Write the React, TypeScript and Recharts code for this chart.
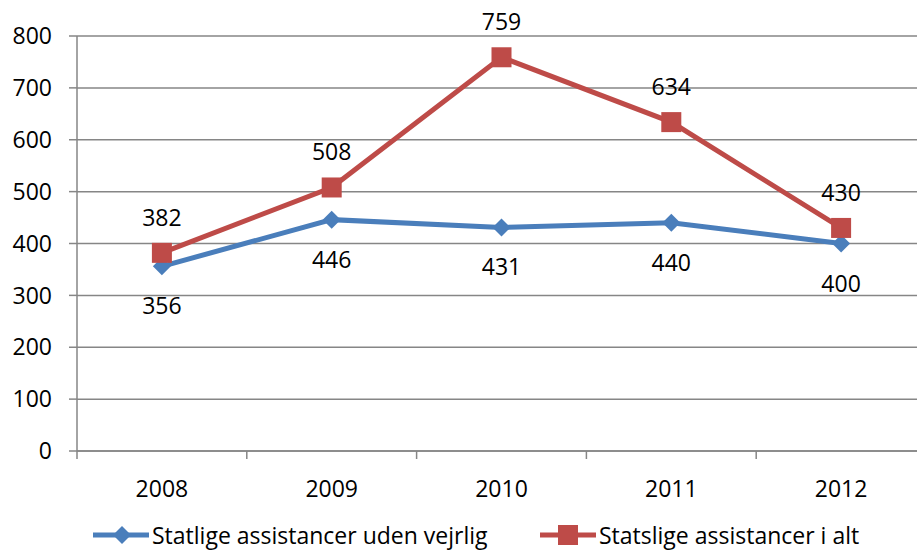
import { LineChart, Line, XAxis, YAxis, CartesianGrid, LabelList } from 'recharts';

const years = ['2008', '2009', '2010', '2011', '2012'];
const udenVejrlig = [356, 446, 431, 440, 400];
const iAlt = [382, 508, 759, 634, 430];
const seriesNames = ['Statlige assistancer uden vejrlig', 'Statslige assistancer i alt'];
const yTicks = [0, 100, 200, 300, 400, 500, 600, 700, 800];

const data = years.map((year, i) => ({ year, uden: udenVejrlig[i], alt: iAlt[i] }));

const FONT = '"Open Sans", sans-serif';
const FS = 23;
const GRID = '#868686';
const BLUE = '#4a7ebb';
const RED = '#be4b48';
const CHART_W = 926;
const PLOT_LEFT = 77;
const BAND = (CHART_W - PLOT_LEFT) / years.length;

const XTick = ({ x, y, payload, index }: any) => (
  <g>
    <text x={x} y={y + 37} textAnchor="middle" dominantBaseline="central" fontSize={FS} fontFamily={FONT} fill="#000">
      {payload.value}
    </text>
    <line x1={x + BAND / 2} y1={y} x2={x + BAND / 2} y2={y + 8} stroke={GRID} strokeWidth={1.5} />
    {index === 0 && <line x1={x - BAND / 2} y1={y} x2={x - BAND / 2} y2={y + 8} stroke={GRID} strokeWidth={1.5} />}
  </g>
);

const makeLabel = (dy: number) => ({ x, y, value }: any) => (
  <text x={x} y={y + dy} textAnchor="middle" dominantBaseline="central" fontSize={FS} fontFamily={FONT} fill="#000">
    {value}
  </text>
);

const Diamond = ({ cx, cy, fill, size = 9 }: any) => (
  <path d={`M${cx},${cy - size} L${cx + size},${cy} L${cx},${cy + size} L${cx - size},${cy} Z`} fill={fill} />
);

const Square = ({ cx, cy, fill, size = 10 }: any) => (
  <rect x={cx - size} y={cy - size} width={size * 2} height={size * 2} fill={fill} />
);

export default function App() {
  return (
    <div style={{ position: 'absolute', left: 0, top: 0, width: 917, height: 552, overflow: 'hidden', background: '#fff' }}>
      <LineChart width={CHART_W} height={552} data={data} margin={{ top: 36, right: 0, left: 0, bottom: 41 }}>
        <CartesianGrid vertical={false} stroke={GRID} strokeWidth={1.5} />
        <XAxis
          dataKey="year"
          height={60}
          tickSize={0}
          tickMargin={0}
          tickLine={false}
          padding={{ left: BAND / 2, right: BAND / 2 }}
          axisLine={{ stroke: GRID, strokeWidth: 1.5 }}
          tick={<XTick />}
          interval={0}
        />
        <YAxis
          width={PLOT_LEFT}
          domain={[0, 800]}
          ticks={yTicks}
          tickSize={8}
          tickMargin={17}
          tickLine={{ stroke: GRID, strokeWidth: 1.5 }}
          axisLine={{ stroke: GRID, strokeWidth: 1.5 }}
          tick={{ fontSize: FS, fontFamily: FONT, fill: '#000' }}
        />
        <Line
          dataKey="uden"
          name={seriesNames[0]}
          stroke={BLUE}
          strokeWidth={5}
          dot={(p: any) => <Diamond key={p.index} cx={p.cx} cy={p.cy} fill={BLUE} />}
          isAnimationActive={false}
        >
          <LabelList dataKey="uden" content={makeLabel(39)} />
        </Line>
        <Line
          dataKey="alt"
          name={seriesNames[1]}
          stroke={RED}
          strokeWidth={5}
          dot={(p: any) => <Square key={p.index} cx={p.cx} cy={p.cy} fill={RED} />}
          isAnimationActive={false}
        >
          <LabelList dataKey="alt" content={makeLabel(-36)} />
        </Line>
      </LineChart>
      <div style={{ position: 'absolute', left: 93, top: 520, fontFamily: FONT, fontSize: FS, lineHeight: '30px', whiteSpace: 'nowrap' }}>
        <span style={{ position: 'absolute', left: 0, top: 0, display: 'flex', alignItems: 'center' }}>
          <svg width={56} height={26}>
            <line x1={0} y1={13} x2={56} y2={13} stroke={BLUE} strokeWidth={5} />
            <Diamond cx={29} cy={13} fill={BLUE} />
          </svg>
          <span style={{ marginLeft: 3 }}>{seriesNames[0]}</span>
        </span>
        <span style={{ position: 'absolute', left: 447, top: 0, display: 'flex', alignItems: 'center' }}>
          <svg width={56} height={26}>
            <line x1={0} y1={13} x2={56} y2={13} stroke={RED} strokeWidth={5} />
            <Square cx={28} cy={13} fill={RED} />
          </svg>
          <span style={{ marginLeft: 3 }}>{seriesNames[1]}</span>
        </span>
      </div>
    </div>
  );
}
